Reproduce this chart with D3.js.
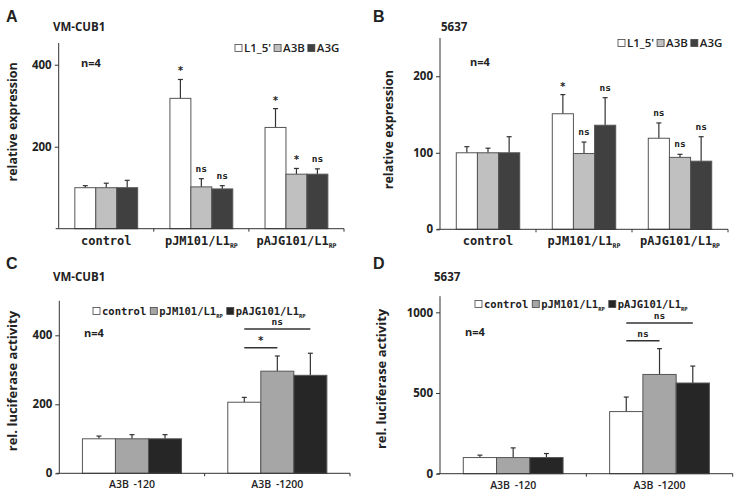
<!DOCTYPE html>
<html>
<head>
<meta charset="utf-8">
<script src="https://cdn.jsdelivr.net/npm/d3@7"></script>
<style>
  body { margin: 0; background: #fff; }
  svg text { font-family: "Open Sans", sans-serif; fill: #222; }
</style>
</head>
<body>
<svg id="fig" width="737" height="495"></svg>
<script>
// ---- data ----
var geneCats = ["control", "pJM101/L1", "pAJG101/L1"];
var geneCatSub = ["", "RP", "RP"];
var geneSeries = ["L1_5'", "A3B", "A3G"];

var aMeans = [[100, 100, 100], [318, 102, 97], [247, 133, 133]];
var aErr   = [[5, 11, 18], [46, 20, 8], [46, 14, 13]];
var aSig   = [["", "", ""], ["*", "ns", "ns"], ["*", "*", "ns"]];
var aTicks = [200, 400];

var bMeans = [[100, 100, 100], [151, 99, 136], [119, 94, 89]];
var bErr   = [[8, 6, 21], [25, 15, 36], [20, 4, 32]];
var bSig   = [["", "", ""], ["*", "ns", "ns"], ["ns", "ns", "ns"]];
var bTicks = [0, 100, 200];

var lucCats = ["A3B -120", "A3B -1200"];
var lucSeries = ["control", "pJM101/L1", "pAJG101/L1"];
var lucSeriesSub = ["", "RP", "RP"];

var cMeans = [[100, 100, 100], [206, 296, 284]];
var cErr   = [[8, 12, 12], [14, 44, 64]];
var cTicks = [0, 200, 400];
var cBrackets = [{cat: 1, from: 0, to: 1, level: 364, label: "*"},
                 {cat: 1, from: 0, to: 2, level: 418, label: "ns"}];

var dMeans = [[100, 100, 100], [385, 615, 562]];
var dErr   = [[15, 60, 25], [90, 160, 105]];
var dTicks = [0, 500, 1000];
var dBrackets = [{cat: 1, from: 0, to: 1, level: 824, label: "ns"},
                 {cat: 1, from: 0, to: 2, level: 934, label: "ns"}];

var svg = d3.select("#fig");
var mono = "DejaVu Sans Mono, monospace";

function drawPanel(p) {
  var g = svg.append("g");
  var y = d3.scaleLinear().domain([0, p.max]).range([p.y0, p.yTop]);
  var x0 = d3.scaleBand().domain(p.cats).range([p.xL, p.xR]).paddingInner(0).paddingOuter(0);
  var x1 = d3.scaleBand().domain(d3.range(3)).range([0, x0.bandwidth()])
      .paddingInner(0).paddingOuter(p.outer);

  // panel letter, cell line, n
  g.append("text").attr("x", p.letterX).attr("y", p.letterY)
    .style("font-family", "Liberation Sans, Arial, sans-serif")
    .style("font-size", "16px").style("font-weight", "bold").attr("fill", "#111")
    .text(p.letter);
  g.append("text").attr("x", p.titleX).attr("y", p.titleY)
    .style("font-size", "11.5px").style("font-weight", "bold")
    .text(p.title);
  g.append("text").attr("x", p.nX).attr("y", p.nY)
    .style("font-size", "11px").style("font-weight", "bold")
    .text("n=4");

  // bars with error bars
  p.means.forEach(function(row, ci) {
    var cat = p.cats[ci];
    row.forEach(function(v, si) {
      var bx = x0(cat) + x1(si);
      var cx = bx + x1.bandwidth() / 2;
      var top = y(v + p.err[ci][si]);
      g.append("line").attr("x1", cx).attr("x2", cx)
        .attr("y1", y(v)).attr("y2", top)
        .attr("stroke", "#333").attr("stroke-width", 1.2);
      g.append("line").attr("x1", cx - 2.5).attr("x2", cx + 2.5)
        .attr("y1", top).attr("y2", top)
        .attr("stroke", "#333").attr("stroke-width", 1.2);
      g.append("rect").attr("x", bx).attr("y", y(v))
        .attr("width", x1.bandwidth()).attr("height", p.y0 - y(v))
        .attr("fill", p.colors[si]).attr("stroke", "#555").attr("stroke-width", 1);
      if (p.sig && p.sig[ci][si]) {
        var s = p.sig[ci][si];
        g.append("text").attr("x", cx)
          .attr("y", top - (s === "*" ? 5 : 7))
          .attr("text-anchor", "middle")
          .style("font-family", mono)
          .style("font-size", s === "*" ? "10px" : "9.5px").style("font-weight", "bold")
          .text(s);
      }
    });
  });

  // significance brackets
  (p.brackets || []).forEach(function(b) {
    var cat = p.cats[b.cat];
    var xa = x0(cat) + x1(b.from) + x1.bandwidth() / 2;
    var xb = x0(cat) + x1(b.to) + x1.bandwidth() / 2;
    g.append("line").attr("x1", xa).attr("x2", xb)
      .attr("y1", y(b.level)).attr("y2", y(b.level))
      .attr("stroke", "#333").attr("stroke-width", 1.5);
    g.append("text").attr("x", (xa + xb) / 2).attr("y", y(b.level) - 4)
      .attr("text-anchor", "middle")
      .style("font-family", mono)
      .style("font-size", b.label === "*" ? "10px" : "9.5px").style("font-weight", "bold")
      .text(b.label);
  });

  // y axis
  var yAxis = d3.axisLeft(y).tickValues(p.ticks).tickFormat(d3.format("d")).tickSize(4).tickPadding(3);
  var ya = g.append("g").attr("transform", "translate(" + p.xL + ",0)").call(yAxis);
  ya.select(".domain").attr("d", "M-3," + p.y0 + "H0V" + p.yTop).attr("stroke", "#333");
  ya.selectAll(".tick line").attr("stroke", "#333");
  ya.selectAll(".tick text").style("font-family", "Open Sans, sans-serif")
    .style("font-size", "11.5px").style("font-weight", "bold").attr("fill", "#222");

  g.append("text")
    .attr("transform", "translate(" + p.yTitleX + "," + ((p.y0 + p.yTop) / 2 + p.yTitleDy) + ") rotate(-90)")
    .attr("text-anchor", "middle")
    .style("font-size", p.yTitleSize).style("font-weight", "bold")
    .text(p.yTitle);

  // x axis
  var xa = g.append("g");
  xa.append("line").attr("x1", p.xL).attr("x2", p.xR).attr("y1", p.y0).attr("y2", p.y0)
    .attr("stroke", "#333");
  p.cats.forEach(function(c, i) {
    var edge = x0(c) + x0.bandwidth();
    xa.append("line").attr("x1", edge).attr("x2", edge)
      .attr("y1", p.y0).attr("y2", p.y0 + 3).attr("stroke", "#333");
    var t = xa.append("text").attr("x", x0(c) + x0.bandwidth() / 2).attr("y", p.y0 + p.catDy)
      .attr("text-anchor", "middle");
    if (p.catMono) {
      t.style("font-family", mono)
        .style("font-size", "12px").style("font-weight", "bold");
      t.append("tspan").text(c);
      if (p.catSub[i]) {
        t.append("tspan").attr("dy", 3).style("font-size", "6.5px").text(p.catSub[i]);
      }
    } else {
      t.style("font-size", "10.5px").style("font-weight", "600")
        .style("word-spacing", "2px").text(c);
    }
  });

  // legend
  var lg = g.append("g").attr("transform", "translate(" + p.legX + "," + p.legY + ")");
  var lx = 0;
  p.series.forEach(function(s, i) {
    lg.append("rect").attr("x", lx).attr("y", -7.5).attr("width", 7).attr("height", 7)
      .attr("fill", p.colors[i]).attr("stroke", "#444").attr("stroke-width", 0.8);
    var t = lg.append("text").attr("x", lx + 9).attr("y", 0)
      .style("font-size", p.legSize).style("font-weight", p.legWeight);
    if (p.legMono) t.style("font-family", mono);
    t.append("tspan").text(s);
    if (p.seriesSub && p.seriesSub[i]) {
      t.append("tspan").attr("dy", 2.5).style("font-size", "5.5px").text(p.seriesSub[i]);
    }
    lx += t.node().getComputedTextLength() + 9 + p.legGap;
  });
}

var geneColors = ["#ffffff", "#c0c0c0", "#404040"];
var lucColors = ["#ffffff", "#a6a6a6", "#262626"];

drawPanel({letter: "A", letterX: 6, letterY: 22, title: "VM-CUB1", titleX: 53, titleY: 31,
  nX: 81, nY: 67, cats: geneCats, catSub: geneCatSub, catMono: true, catDy: 16,
  series: geneSeries, colors: geneColors, means: aMeans, err: aErr, sig: aSig,
  ticks: aTicks, max: 453, xL: 58.7, xR: 344, y0: 228.7, yTop: 43, outer: 0.77,
  yTitle: "relative expression", yTitleX: 17, yTitleDy: -14, yTitleSize: "12.5px",
  legX: 235, legY: 52, legSize: "11.5px", legWeight: "600", legGap: 3});

drawPanel({letter: "B", letterX: 373, letterY: 22, title: "5637", titleX: 441, titleY: 31,
  nX: 470, nY: 66, cats: geneCats, catSub: geneCatSub, catMono: true, catDy: 16,
  series: geneSeries, colors: geneColors, means: bMeans, err: bErr, sig: bSig,
  ticks: bTicks, max: 250, xL: 440, xR: 728, y0: 229.3, yTop: 38, outer: 0.77,
  yTitle: "relative expression", yTitleX: 393, yTitleDy: -4, yTitleSize: "12.5px",
  legX: 618, legY: 47, legSize: "11.5px", legWeight: "600", legGap: 3});

drawPanel({letter: "C", letterX: 6, letterY: 269, title: "VM-CUB1", titleX: 53, titleY: 281,
  nX: 84, nY: 337, cats: lucCats, catMono: false, catDy: 15,
  series: lucSeries, seriesSub: lucSeriesSub, colors: lucColors, means: cMeans, err: cErr,
  brackets: cBrackets,
  ticks: cTicks, max: 500, xL: 59.3, xR: 350, y0: 473.3, yTop: 300.8, outer: 0.7,
  yTitle: "rel. luciferase activity", yTitleX: 17, yTitleDy: -6, yTitleSize: "13px",
  legX: 93, legY: 315, legSize: "10.5px", legWeight: "bold", legMono: true, legGap: 4});

drawPanel({letter: "D", letterX: 373, letterY: 269, title: "5637", titleX: 434, titleY: 281,
  nX: 465, nY: 336, cats: lucCats, catMono: false, catDy: 15,
  series: lucSeries, seriesSub: lucSeriesSub, colors: lucColors, means: dMeans, err: dErr,
  brackets: dBrackets,
  ticks: dTicks, max: 1100, xL: 440, xR: 732.7, y0: 473.7, yTop: 296.2, outer: 0.7,
  yTitle: "rel. luciferase activity", yTitleX: 386, yTitleDy: -6, yTitleSize: "13px",
  legX: 475, legY: 308, legSize: "10.5px", legWeight: "bold", legMono: true, legGap: 4});
</script>
</body>
</html>
